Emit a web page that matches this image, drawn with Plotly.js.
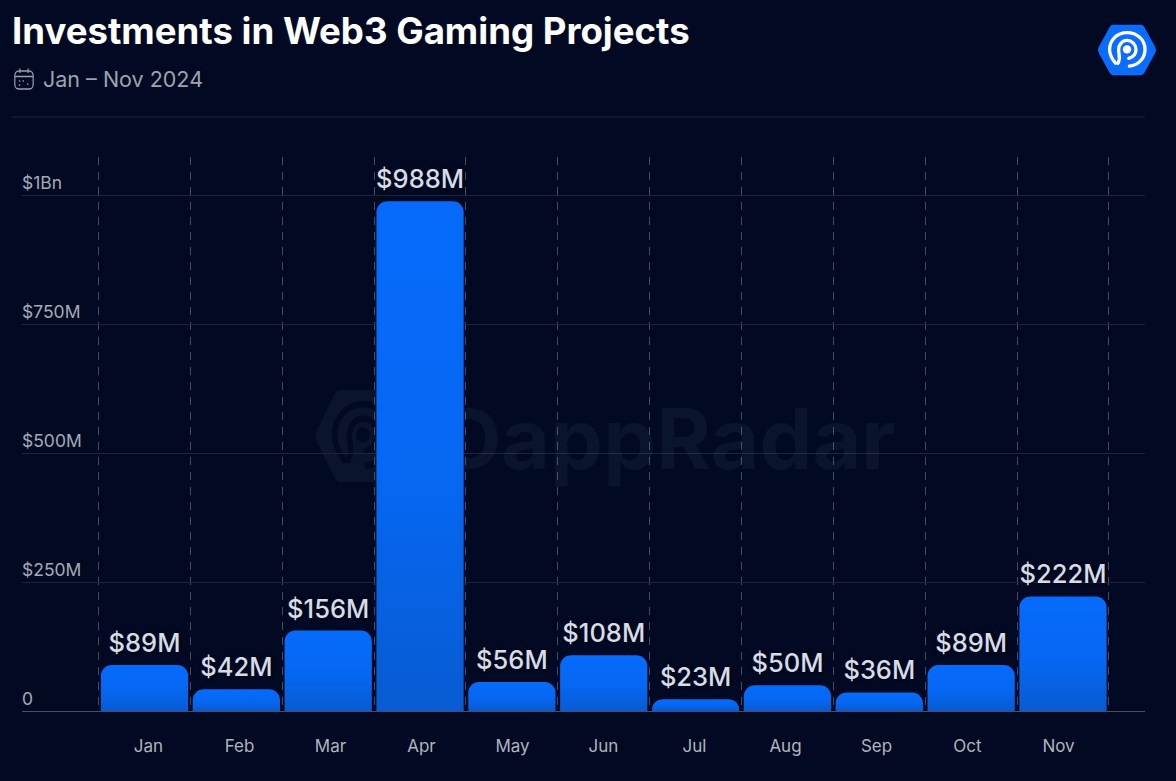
<!DOCTYPE html>
<html><head><meta charset="utf-8">
<script src="https://cdn.plot.ly/plotly-3.0.1.min.js"></script>
<style>html,body{margin:0;padding:0;background:#010a22;overflow:hidden}</style>
</head><body>
<div id="chart" style="width:1176px;height:781px"></div>
<svg width="0" height="0" style="position:absolute"><defs>
<linearGradient id="barGrad" x1="0" y1="0" x2="0" y2="1">
<stop offset="0" stop-color="#066bfc"/><stop offset="0.55" stop-color="#0667f2"/><stop offset="1" stop-color="#085bd2"/>
</linearGradient></defs></svg>
<script>
const months = ['Jan','Feb','Mar','Apr','May','Jun','Jul','Aug','Sep','Oct','Nov'];
const investments = [89,42,156,988,56,108,23,50,36,89,222];
const valueLabels = ['$89M','$42M','$156M','$988M','$56M','$108M','$23M','$50M','$36M','$89M','$222M'];
const yTicks = [0,250,500,750,1000];
const yTickLabels = ['0','$250M','$500M','$750M','$1Bn'];
const positions = months.map((m,i)=>i);
const dividers = [-0.5,0.5,1.5,2.5,3.5,4.5,5.5,6.5,7.5,8.5,9.5,10.5];

const L=22,R=1145,T=157,B=711;
const step=91.85, labelStep=91;
const xRange=[(L-144.5)/step,(R-144.5)/step], yRange=[0,(B-T)/0.516];
const labelPositions=positions.map(i=>i*labelStep/step);
const px=v=>(v-L)/(R-L), py=v=>(B-v)/(B-T);
const svgUri=s=>'data:image/svg+xml;base64,'+btoa(s);
const hexLogo=(fill,stroke)=>svgUri(`<svg xmlns="http://www.w3.org/2000/svg" viewBox="0 0 100 100" preserveAspectRatio="none"><path d="M27 8H73Q77 8 79 12L97 45Q100 50 97 55L79 88Q77 92 73 92H27Q23 92 21 88L3 55Q0 50 3 45L21 12Q23 8 27 8Z" fill="${fill}"/><g fill="none" stroke="${stroke}" stroke-width="5.5" stroke-linecap="round"><path d="M54 77C70 75 80 63 80 49C80 33 67 21 50 21C33 21 21 34 21 49C21 59 26 66 31 72"/><path d="M35 72C40 63 36 57 36 50C36 41 42 34 50 34C58 34 65 41 65 49C65 57 59 62 53 64"/></g><circle cx="50" cy="49" r="7" fill="${stroke}"/></svg>`);
const calIcon=svgUri(`<svg xmlns="http://www.w3.org/2000/svg" viewBox="0 0 24 24" fill="none" stroke="#9aa0ae" stroke-width="1.3"><rect x="2" y="4" width="20" height="18" rx="4.5"/><path d="M2 9.5H22M7.5 1.5V6M16.5 1.5V6"/><g stroke-linecap="round" stroke-width="1.6"><path d="M7 14h.3M11 14h.3M7 18h.3M16 17h.3"/></g></svg>`);

const wmTrace={type:'scatter',mode:'text',x:[5.70],y:[510],text:['DappRadar'],textposition:'middle center',
  textfont:{family:'Inter, sans-serif',size:84,weight:700,color:'rgba(190,205,240,0.055)'},hoverinfo:'skip',showlegend:false,cliponaxis:false};
const barTrace={type:'bar',x:positions,y:investments,xaxis:'x2',yaxis:'y2',width:0.95,
  marker:{color:'#066bfc',cornerradius:11,line:{width:0}},
  text:valueLabels,textposition:'outside',cliponaxis:false,constraintext:'none',
  textfont:{family:'Inter, sans-serif',size:25.5,weight:500,color:'#d8dce4',shadow:'0 0 3px #010a22, 0 0 3px #010a22'},hoverinfo:'skip',showlegend:false};

const layout={width:1176,height:781,margin:{l:L,r:1176-R,t:T,b:781-B},
  paper_bgcolor:'#010a22',plot_bgcolor:'rgba(0,0,0,0)',showlegend:false,
  title:{text:'Investments in Web3 Gaming Projects',x:12/1176,xanchor:'left',y:1-31/781,yanchor:'middle',
    font:{family:'Inter, sans-serif',size:36.6,weight:700,color:'#ffffff'}},
  font:{family:'Inter, sans-serif'},
  xaxis:{range:xRange,tickmode:'array',tickvals:labelPositions,ticktext:months,showgrid:false,zeroline:false,showline:false,
    ticks:'',ticklen:0,ticklabelshift:4,ticklabelstandoff:23,tickfont:{family:'Inter, sans-serif',size:17,color:'#b0b4bf'},
    minor:{tickmode:'array',tickvals:dividers,showgrid:true,griddash:'8px,7px',gridcolor:'#454c5e',gridwidth:1,ticks:''}},
  yaxis:{range:yRange,tickmode:'array',tickvals:yTicks,ticktext:yTickLabels,showgrid:true,gridcolor:'#1c2438',gridwidth:1,
    zeroline:true,zerolinecolor:'#4a4f5e',zerolinewidth:1,showline:false,ticks:'',
    ticklabelposition:'inside',ticklabelshift:-12,ticklabelstandoff:-3,tickfont:{family:'Inter, sans-serif',size:17.5,color:'#a5aab7'}},
  xaxis2:{range:xRange,overlaying:'x',visible:false,fixedrange:true,anchor:'y2'},
  yaxis2:{range:yRange,overlaying:'y',visible:false,fixedrange:true,anchor:'x2'},
  annotations:[{xref:'paper',yref:'paper',x:px(41),y:py(79),xanchor:'left',yanchor:'middle',showarrow:false,
    text:'Jan – Nov 2024',font:{family:'Inter, sans-serif',size:21.5,color:'#9ea3b1'}}],
  shapes:[{type:'line',xref:'paper',yref:'paper',x0:px(12),x1:px(1145),y0:py(117),y1:py(117),line:{color:'#1c2438',width:1}}],
  images:[
    {source:hexLogo('#0a6dff','#ffffff'),xref:'paper',yref:'paper',x:px(1097),y:py(20),sizex:60/(R-L),sizey:60/(B-T),xanchor:'left',yanchor:'top',layer:'above',sizing:'stretch'},
    {source:calIcon,xref:'paper',yref:'paper',x:px(13),y:py(67),sizex:22/(R-L),sizey:24/(B-T),xanchor:'left',yanchor:'top',layer:'above',sizing:'stretch'},
    {source:hexLogo('rgba(190,205,240,0.055)','#010a22'),xref:'paper',yref:'paper',x:px(314),y:py(381),sizex:98/(R-L),sizey:110/(B-T),xanchor:'left',yanchor:'top',layer:'below',sizing:'stretch'}
  ]};

Plotly.newPlot('chart',[wmTrace,barTrace],layout,{displayModeBar:false,staticPlot:true}).then(gd=>{
  gd.querySelectorAll('.bars .point path').forEach(p=>{p.style.fill='url(#barGrad)';});
  gd.querySelectorAll('.bars .point text').forEach(t=>{
    t.setAttribute('transform','translate(0,-4) '+(t.getAttribute('transform')||''));
  });
});
</script>
</body></html>
